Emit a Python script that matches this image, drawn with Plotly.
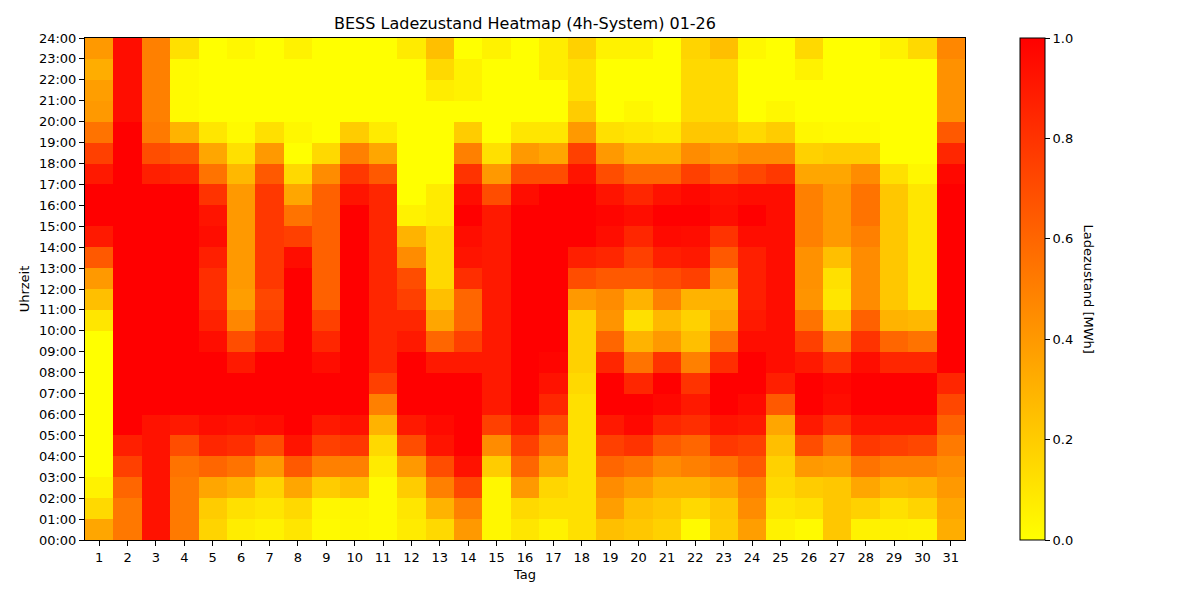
import numpy as np
import plotly.graph_objects as go

# ===== DATEN: Ladezustand je Stunde (0..23), eine Liste pro Tag =====
d01 = [0.35, 0.15, 0.05, 0, 0, 0, 0, 0, 0, 0, 0.1, 0.25, 0.4, 0.65, 0.9, 1, 1, 0.9, 0.75, 0.55, 0.4, 0.38, 0.32, 0.4]
d02 = [0.53, 0.53, 0.6, 0.75, 0.88, 1, 1, 1, 1, 1, 1, 1, 1, 1, 1, 1, 1, 1, 1, 1, 0.95, 0.95, 0.95, 0.95]
d03 = [0.93, 0.93, 0.93, 0.93, 0.93, 0.93, 1, 1, 1, 1, 1, 1, 1, 1, 1, 1, 1, 0.88, 0.7, 0.52, 0.5, 0.5, 0.5, 0.5]
d04 = [0.52, 0.52, 0.52, 0.55, 0.7, 0.9, 1, 1, 1, 1, 1, 1, 1, 1, 1, 1, 1, 0.85, 0.65, 0.3, 0.02, 0.02, 0.02, 0.12]
d05 = [0.17, 0.2, 0.35, 0.6, 0.85, 0.95, 1, 1, 1, 0.95, 0.87, 0.82, 0.82, 0.88, 0.95, 0.92, 0.8, 0.55, 0.35, 0.1, 0, 0, 0, 0]
d06 = [0.07, 0.12, 0.3, 0.55, 0.82, 0.93, 1, 1, 0.9, 0.7, 0.47, 0.38, 0.4, 0.4, 0.4, 0.4, 0.4, 0.28, 0.12, 0.02, 0, 0, 0, 0.03]
d07 = [0.05, 0.1, 0.17, 0.4, 0.7, 0.95, 1, 1, 1, 0.85, 0.75, 0.72, 0.78, 0.78, 0.78, 0.78, 0.78, 0.65, 0.4, 0.12, 0, 0, 0, 0]
d08 = [0.1, 0.15, 0.35, 0.65, 0.92, 1, 1, 1, 1, 1, 1, 1, 1, 0.95, 0.75, 0.55, 0.35, 0.15, 0, 0.03, 0, 0, 0, 0.05]
d09 = [0.02, 0.03, 0.2, 0.5, 0.75, 0.9, 1, 1, 0.95, 0.85, 0.75, 0.62, 0.62, 0.62, 0.62, 0.62, 0.62, 0.45, 0.15, 0, 0, 0, 0, 0]
d10 = [0.03, 0.04, 0.25, 0.5, 0.78, 0.93, 1, 1, 1, 1, 1, 1, 1, 1, 1, 1, 0.92, 0.78, 0.5, 0.2, 0, 0, 0, 0]
d11 = [0.02, 0.02, 0.02, 0.08, 0.15, 0.3, 0.5, 0.75, 0.85, 0.85, 0.85, 0.85, 0.85, 0.85, 0.85, 0.85, 0.85, 0.65, 0.35, 0.08, 0, 0, 0, 0]
d12 = [0.08, 0.1, 0.2, 0.4, 0.7, 0.9, 1, 1, 1, 0.9, 0.85, 0.75, 0.7, 0.45, 0.3, 0.05, 0, 0, 0, 0, 0, 0, 0, 0.08]
d13 = [0.15, 0.3, 0.5, 0.7, 0.92, 0.96, 1, 1, 0.9, 0.6, 0.35, 0.25, 0.15, 0.15, 0.15, 0.08, 0.08, 0, 0, 0, 0, 0.07, 0.15, 0.25]
d14 = [0.4, 0.5, 0.72, 0.93, 1, 1, 1, 1, 0.9, 0.75, 0.6, 0.6, 0.82, 0.92, 0.95, 1, 0.95, 0.8, 0.5, 0.2, 0, 0.05, 0.05, 0]
d15 = [0.03, 0.03, 0.03, 0.2, 0.45, 0.75, 0.9, 0.9, 0.9, 0.9, 0.9, 0.9, 0.9, 0.9, 0.9, 0.9, 0.7, 0.4, 0.12, 0, 0, 0, 0, 0.05]
d16 = [0.1, 0.15, 0.4, 0.6, 0.75, 0.9, 1, 1, 1, 1, 1, 1, 1, 1, 1, 1, 0.95, 0.7, 0.4, 0.1, 0, 0, 0, 0]
d17 = [0.05, 0.12, 0.16, 0.35, 0.55, 0.7, 0.85, 0.93, 0.98, 1, 1, 1, 1, 1, 1, 1, 1, 0.7, 0.35, 0.1, 0, 0, 0.07, 0.07]
d18 = [0.12, 0.12, 0.12, 0.12, 0.12, 0.12, 0.12, 0.15, 0.18, 0.18, 0.18, 0.4, 0.7, 0.88, 1, 1, 1, 0.92, 0.75, 0.4, 0.2, 0.12, 0.12, 0.18]
d19 = [0.25, 0.38, 0.45, 0.6, 0.75, 0.9, 1, 1, 0.85, 0.6, 0.42, 0.45, 0.65, 0.85, 0.95, 0.98, 0.92, 0.7, 0.4, 0.12, 0, 0, 0, 0.05]
d20 = [0.22, 0.25, 0.38, 0.55, 0.8, 0.97, 1, 0.85, 0.55, 0.3, 0.12, 0.3, 0.65, 0.75, 0.85, 0.95, 0.85, 0.6, 0.3, 0.1, 0.03, 0, 0, 0.05]
d21 = [0.18, 0.22, 0.3, 0.45, 0.65, 0.85, 0.97, 1, 0.8, 0.4, 0.28, 0.5, 0.7, 0.88, 0.96, 1, 0.93, 0.6, 0.3, 0.08, 0, 0, 0, 0]
d22 = [0.02, 0.15, 0.3, 0.5, 0.6, 0.82, 0.9, 0.8, 0.5, 0.25, 0.18, 0.3, 0.75, 0.9, 0.95, 1, 0.97, 0.75, 0.45, 0.22, 0.15, 0.15, 0.15, 0.17]
d23 = [0.2, 0.22, 0.35, 0.55, 0.78, 0.92, 1, 1, 0.82, 0.55, 0.35, 0.3, 0.45, 0.65, 0.8, 0.95, 0.93, 0.65, 0.4, 0.22, 0.15, 0.15, 0.15, 0.25]
d24 = [0.38, 0.45, 0.5, 0.65, 0.75, 0.9, 0.96, 1, 1, 0.95, 0.9, 0.88, 0.88, 0.88, 0.95, 1, 0.95, 0.72, 0.45, 0.15, 0, 0, 0, 0.03]
d25 = [0.05, 0.1, 0.15, 0.18, 0.25, 0.35, 0.65, 0.88, 0.95, 0.95, 0.95, 0.95, 0.95, 0.95, 0.95, 0.95, 0.95, 0.78, 0.45, 0.2, 0.03, 0, 0, 0]
d26 = [0.02, 0.12, 0.2, 0.4, 0.7, 0.9, 1, 1, 0.9, 0.75, 0.55, 0.42, 0.43, 0.43, 0.5, 0.5, 0.5, 0.35, 0.18, 0.03, 0, 0, 0.05, 0.15]
d27 = [0.22, 0.22, 0.22, 0.38, 0.55, 0.8, 0.95, 0.97, 0.8, 0.5, 0.22, 0.1, 0.12, 0.25, 0.4, 0.4, 0.4, 0.35, 0.2, 0.02, 0, 0, 0, 0]
d28 = [0.05, 0.18, 0.35, 0.55, 0.78, 0.92, 1, 1, 0.95, 0.8, 0.62, 0.45, 0.45, 0.45, 0.5, 0.55, 0.55, 0.45, 0.2, 0.02, 0, 0, 0, 0]
d29 = [0.06, 0.12, 0.28, 0.5, 0.75, 0.92, 1, 1, 0.85, 0.6, 0.3, 0.22, 0.22, 0.22, 0.22, 0.22, 0.22, 0.12, 0, 0, 0, 0, 0, 0.05]
d30 = [0.05, 0.17, 0.3, 0.5, 0.72, 0.92, 1, 1, 0.85, 0.55, 0.28, 0.1, 0.1, 0.1, 0.1, 0.1, 0.1, 0.03, 0, 0, 0, 0, 0, 0.15]
d31 = [0.32, 0.35, 0.4, 0.45, 0.52, 0.62, 0.72, 0.85, 1, 1, 1, 1, 1, 1, 1, 1, 1, 0.97, 0.85, 0.65, 0.43, 0.43, 0.43, 0.47]

days = list(range(1, 32))
hours = [h + 0.5 for h in range(24)]  # Zellmitte je Stunde
hour_ticks = list(range(25))
hour_labels = [f"{h:02d}:00" for h in hour_ticks]

day_cols = [d01, d02, d03, d04, d05, d06, d07, d08, d09, d10, d11, d12, d13, d14, d15, d16,
            d17, d18, d19, d20, d21, d22, d23, d24, d25, d26, d27, d28, d29, d30, d31]
z = np.array(day_cols).T  # Zeilen = Stunden, Spalten = Tage

FONT = "DejaVu Sans"
# Seite hat 8px Rand -> Figur etwas kleiner, damit die Zeichenfläche bei 85..965 / 38..542 liegt
W, H = 1184, 584
L, T, PW, PH = 77, 30, 880, 504

fig = go.Figure()

fig.add_trace(go.Heatmap(
    x=days, y=hours, z=z,
    zmin=0, zmax=1,
    colorscale=[[0, "#ffff00"], [1, "#ff0000"]],
    colorbar=dict(
        x=(1020 - 85) / PW, xanchor="left", xref="paper",
        y=0.5, yanchor="middle",
        len=1, thickness=25, xpad=0, ypad=0,
        outlinewidth=1, outlinecolor="black",
        ticks="outside", ticklen=5, tickcolor="black",
        tickvals=[0, 0.2, 0.4, 0.6, 0.8, 1.0],
        ticktext=["0.0", "0.2", "0.4", "0.6", "0.8", "1.0"],
        tickfont=dict(family=FONT, size=13, color="black"),
    ),
    hovertemplate="Tag %{x}<br>%{y}<br>%{z:.2f} MWh<extra></extra>",
))

# Colorbar-Beschriftung (von oben nach unten gelesen)
fig.add_annotation(
    text="Ladezustand [MWh]",
    xref="paper", yref="paper",
    x=(1098 - 85) / PW, y=0.5,
    textangle=90, showarrow=False,
    font=dict(family=FONT, size=13, color="black"),
)

fig.update_xaxes(
    range=[0.5, 31.5],
    tickvals=days,
    ticks="outside", ticklen=5, tickcolor="black",
    showline=True, linecolor="black", linewidth=1, mirror=True,
    showgrid=False, zeroline=False,
    tickfont=dict(family=FONT, size=13, color="black"),
    title=dict(text="Tag", font=dict(family=FONT, size=13, color="black"), standoff=6),
)
fig.update_yaxes(
    range=[0, 24],
    tickvals=hour_ticks, ticktext=hour_labels,
    ticks="outside", ticklen=5, tickcolor="black",
    showline=True, linecolor="black", linewidth=1, mirror=True,
    showgrid=False, zeroline=False,
    tickfont=dict(family=FONT, size=13, color="black"),
    title=dict(text="Uhrzeit", font=dict(family=FONT, size=13, color="black"), standoff=6),
)

fig.update_layout(
    width=W, height=H,
    margin=dict(l=L, r=W - L - PW, t=T, b=H - T - PH),
    paper_bgcolor="white", plot_bgcolor="white",
    title=dict(
        text="BESS Ladezustand Heatmap (4h-System) 01-26",
        x=0.5, xref="paper", xanchor="center",
        y=1 - 15 / H, yanchor="middle",
        font=dict(family=FONT, size=16, color="black"),
    ),
)

fig.write_html("out.html")
